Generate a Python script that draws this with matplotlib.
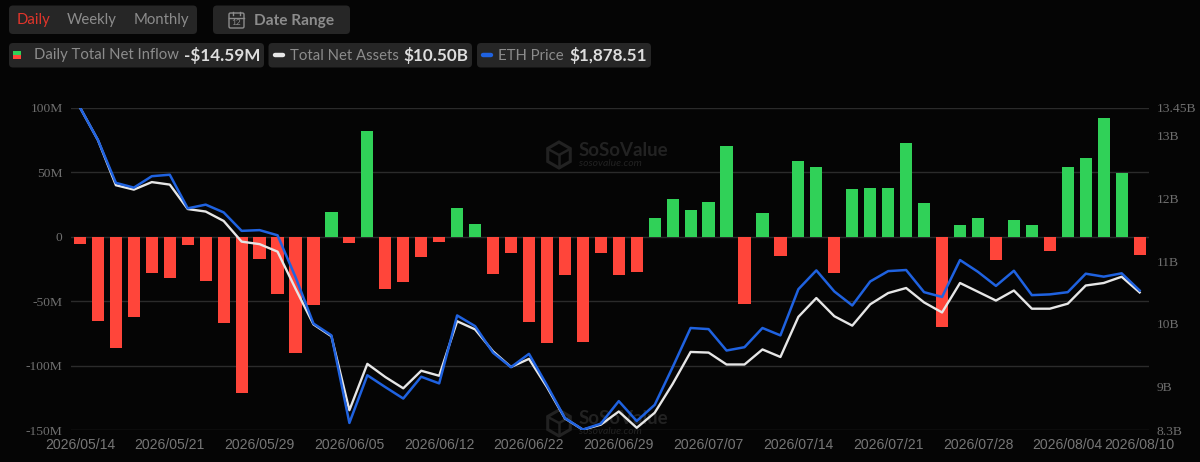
import numpy as np
import matplotlib
matplotlib.use('Agg')
import matplotlib.pyplot as plt
from matplotlib.patches import FancyBboxPatch, Rectangle, RegularPolygon

# daily net inflow, $M
net_inflow = [-5.4, -65.6, -86, -62, -28, -32.4, -6.5, -34.7, -67, -121,
              -17.6, -44.4, -90, -52.6, 19, -4.6, 82, -40.5, -35, -15.8,
              -4.5, 22.4, 9.5, -29, -12.7, -65.8, -82.3, -30, -81.8, -12.7,
              -30, -27.4, 14.7, 29, 20.6, 26.8, 70.4, -51.9, 18.3, -15.2,
              58.3, 53.6, -28, 36.6, 37.9, 37.4, 72.5, 26, -70.2, 9,
              14.4, -18.3, 13.2, 8.7, -11.4, 53.6, 60.8, 92, 49.5, -14.59]

# total net assets, $B
net_assets = [13.45, 12.93, 12.21, 12.14, 12.26, 12.22, 11.83, 11.79, 11.64, 11.31,
              11.27, 11.15, 10.56, 9.99, 9.80, 8.62, 9.36, 9.15, 8.97, 9.25,
              9.17, 10.04, 9.91, 9.56, 9.31, 9.44, 8.99, 8.49, 8.31, 8.39,
              8.60, 8.34, 8.58, 9.04, 9.55, 9.54, 9.35, 9.35, 9.59, 9.47,
              10.11, 10.41, 10.12, 9.97, 10.31, 10.49, 10.57, 10.34, 10.18, 10.65,
              10.51, 10.37, 10.53, 10.24, 10.24, 10.32, 10.61, 10.65, 10.75, 10.50]

# ETH price, $ (its axis is not shown in the chart, range is estimated)
eth_price = [2374, 2286, 2170, 2157, 2188, 2192, 2101, 2111, 2090, 2040,
             2042, 2028, 1915, 1789, 1757, 1520, 1649, 1617, 1586, 1645,
             1627, 1811, 1782, 1710, 1671, 1707, 1622, 1533, 1502, 1518,
             1579, 1525, 1569, 1671, 1777, 1774, 1716, 1725, 1777, 1757,
             1882, 1933, 1876, 1838, 1903, 1931, 1934, 1874, 1861, 1961,
             1929, 1891, 1932, 1866, 1868, 1874, 1924, 1916, 1925, 1878.51]

date_ticks = [0, 5, 10, 15, 20, 25, 30, 35, 40, 45, 50, 55, 59]
date_labels = ['2026/05/14', '2026/05/21', '2026/05/29', '2026/06/05', '2026/06/12',
               '2026/06/22', '2026/06/29', '2026/07/07', '2026/07/14', '2026/07/21',
               '2026/07/28', '2026/08/04', '2026/08/10']
left_ticks = [100, 50, 0, -50, -100, -150]
left_labels = ['100M', '50M', '0', '-50M', '-100M', '-150M']
right_ticks = [13.45, 13, 12, 11, 10, 9, 8.3]
right_labels = ['13.45B', '13B', '12B', '11B', '10B', '9B', '8.3B']

BG = '#050505'
PILL = '#262626'
GRID = '#2b2b2b'
TICK = '#6f6f6f'
MUTED = '#8c8c8c'
BRIGHT = '#dedede'
RED = '#ff453a'
GREEN = '#30d158'
BLUE = '#1f62e0'
WHITE = '#e6e6e6'
MARK = '#222222'
UI_FONT = 'Lato'

W, H = 1200, 462
fig = plt.figure(figsize=(W / 100, H / 100), dpi=100, facecolor=BG)

# full figure layer in pixel coordinates for the header and the watermarks
ui = fig.add_axes([0, 0, 1, 1], zorder=0)
ui.set_xlim(0, W)
ui.set_ylim(H, 0)
ui.axis('off')


def pill(x0, x1, y0, y1):
    ui.add_patch(FancyBboxPatch((x0 + 4, y0 + 4), x1 - x0 - 8, y1 - y0 - 8,
                                boxstyle='round,pad=4,rounding_size=4',
                                fc=PILL, ec='none'))


def label(x, y, s, color=MUTED, size=10.7, weight='normal'):
    ui.text(x, y, s, color=color, fontsize=size, fontweight=weight,
            family=UI_FONT, va='center', ha='left')


def watermark(cx, cy):
    ui.add_patch(RegularPolygon((cx, cy), 6, radius=13, fc='none', ec=MARK, lw=2.2))
    ui.plot([cx - 11, cx, cx + 11], [cy - 6, cy, cy - 6], color=MARK, lw=1.8)
    ui.plot([cx, cx], [cy, cy + 12], color=MARK, lw=1.8)
    ui.text(cx + 20, cy - 4, 'SoSoValue', color=MARK, fontsize=13.5, fontweight='bold',
            family=UI_FONT, va='center', ha='left')
    ui.text(cx + 20, cy + 9, 'sosovalue.com', color=MARK, fontsize=7.5, style='italic',
            family=UI_FONT, va='center', ha='left')


pill(9, 197, 5.5, 34)
pill(213, 350, 5.5, 34)
label(17, 20, 'Daily', color='#e0352b')
label(67, 20, 'Weekly')
label(133.5, 20, 'Monthly')

# calendar icon
ui.add_patch(FancyBboxPatch((230, 14), 13, 13, boxstyle='round,pad=1,rounding_size=1.5',
                            fc='none', ec=MUTED, lw=1))
ui.plot([229, 244], [17.5, 17.5], color=MUTED, lw=1)
ui.plot([233, 233], [11.5, 15], color=MUTED, lw=1)
ui.plot([240, 240], [11.5, 15], color=MUTED, lw=1)
ui.text(236.5, 22.5, '12', color=MUTED, fontsize=6, family=UI_FONT, va='center', ha='center')
label(254.5, 20.5, 'Date Range', size=11.1, weight='bold')

pill(9, 264, 43, 67.5)
pill(268.5, 472, 43, 67.5)
pill(477, 651, 43, 67.5)

ui.add_patch(Rectangle((13, 51), 8, 4, fc=GREEN, ec='none'))
ui.add_patch(Rectangle((13, 55), 8, 4, fc=RED, ec='none'))
label(33.5, 55.5, 'Daily Total Net Inflow')
label(184, 55.5, '-$14.59M', color=BRIGHT, size=12.3, weight='bold')
ui.plot([275, 283], [55, 55], color=WHITE, lw=3.2, solid_capstyle='round')
label(289.5, 55.5, 'Total Net Assets')
label(403, 55.5, '$10.50B', color=BRIGHT, size=12.3, weight='bold')
ui.plot([483, 491], [55, 55], color=BLUE, lw=3.2, solid_capstyle='round')
label(497.5, 55.5, 'ETH Price')
label(569, 55.5, '$1,878.51', color=BRIGHT, size=12.3, weight='bold')

watermark(559, 155)
watermark(559, 423)

# chart area, 71..1148.6 px across and 107.5..430.3 px down
ax = fig.add_axes([71 / W, 1 - 430.3 / H, 1077.6 / W, 322.8 / H], zorder=1)
ax.patch.set_alpha(0)

x = np.arange(len(net_inflow))
colors = [GREEN if v > 0 else RED for v in net_inflow]
ax.bar(x, net_inflow, width=0.68, color=colors, zorder=3)
ax.set_xlim(-0.5, 59.5)
ax.set_ylim(-150, 100)
ax.set_yticks(left_ticks)
ax.set_yticklabels(left_labels, family='Liberation Serif', fontsize=9.7, color=TICK)
ax.set_xticks(date_ticks)
ax.set_xticklabels(date_labels, family='Liberation Sans', fontsize=10.1, color='#767676')
ax.tick_params(axis='both', length=0)
ax.tick_params(axis='y', pad=6)
ax.tick_params(axis='x', pad=5.5)
ax.grid(axis='y', color=GRID, lw=1, zorder=0)
ax.set_axisbelow(True)
for s in ax.spines.values():
    s.set_visible(False)

ax2 = ax.twinx()
ax2.patch.set_alpha(0)
ax2.plot(x, net_assets, color=WHITE, lw=1.7, zorder=4)
ax2.set_ylim(8.3, 13.45)
ax2.set_yticks(right_ticks)
ax2.set_yticklabels(right_labels, family='Liberation Serif', fontsize=9.7, color=TICK)
ax2.tick_params(axis='y', length=0, pad=6)
for s in ax2.spines.values():
    s.set_visible(False)

ax3 = ax.twinx()
ax3.patch.set_alpha(0)
ax3.plot(x, eth_price, color=BLUE, lw=1.8, zorder=5)
ax3.set_ylim(1500, 2374)
ax3.axis('off')

plt.savefig('out.png', dpi=100, facecolor=BG)
